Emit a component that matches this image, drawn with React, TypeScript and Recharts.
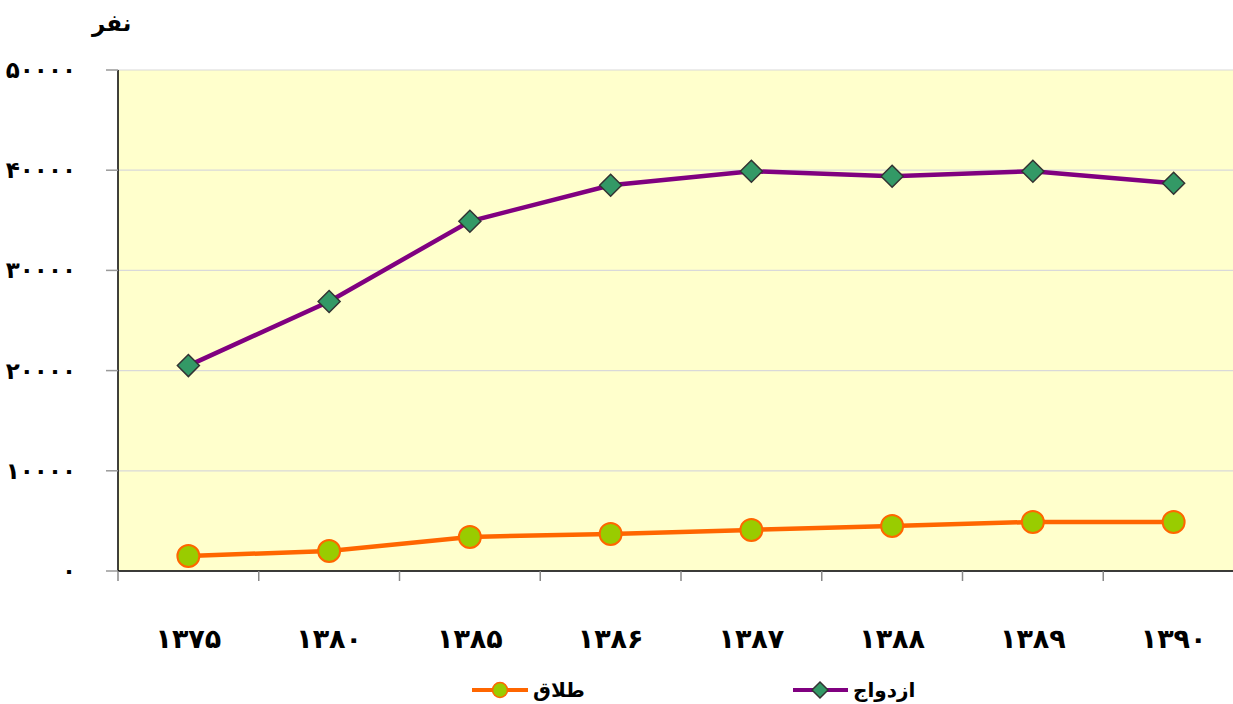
import React from "react";
import { LineChart, Line, XAxis, YAxis, CartesianGrid } from "recharts";

const years = ["۱۳۷۵", "۱۳۸۰", "۱۳۸۵", "۱۳۸۶", "۱۳۸۷", "۱۳۸۸", "۱۳۸۹", "۱۳۹۰"];
const marriage = [20500, 26900, 34900, 38500, 39900, 39400, 39900, 38700];
const divorce = [1500, 2000, 3400, 3700, 4100, 4500, 4900, 4900];
const yTicks = [0, 10000, 20000, 30000, 40000, 50000];
const marriageLabel = "ازدواج";
const divorceLabel = "طلاق";
const unitLabel = "نفر";

const data = years.map((y, i) => ({ year: y, marriage: marriage[i], divorce: divorce[i] }));

const FONT = "'DejaVu Sans', sans-serif";
const toFa = (n: number) => String(n).replace(/\d/g, (d) => "۰۱۲۳۴۵۶۷۸۹"[Number(d)]);

const CHART_W = 1244;
const CHART_H = 704;
const M_LEFT = 18;
const Y_W = 100;
const BAND = (CHART_W - M_LEFT - Y_W) / years.length;

const XTick = (props: any) => {
  const { x, payload } = props;
  const bx = x - BAND / 2;
  return (
    <g>
      <line x1={bx} y1={571} x2={bx} y2={581} stroke="#888" strokeWidth={1.5} />
      <text x={x} y={648} textAnchor="middle" fontFamily={FONT} fontWeight="bold" fontSize={27} fill="#000">
        {payload.value}
      </text>
    </g>
  );
};

const YTick = (props: any) => {
  const { y, payload } = props;
  return (
    <text x={76} y={y + 8} textAnchor="end" fontFamily={FONT} fontWeight="bold" fontSize={23} fill="#000">
      {toFa(payload.value)}
    </text>
  );
};

const Diamond = (props: any) => {
  const { cx, cy, index } = props;
  const r = 11;
  return (
    <path
      key={`d-${index}`}
      d={`M${cx},${cy - r} L${cx + r},${cy} L${cx},${cy + r} L${cx - r},${cy} Z`}
      fill="#339966"
      stroke="#333333"
      strokeWidth={1.5}
    />
  );
};

export default function App() {
  return (
    <div style={{ position: "absolute", left: 0, top: 0, width: 1233, height: 704, overflow: "hidden", background: "#fff" }}>
      <LineChart width={CHART_W} height={CHART_H} data={data} margin={{ top: 70, right: 0, bottom: 0, left: M_LEFT }}>
        <CartesianGrid vertical={false} stroke="#d9d9d9" strokeWidth={1.2} fill="#FFFFCC" />
        <XAxis
          dataKey="year"
          scale="band"
          height={133}
          axisLine={{ stroke: "#000", strokeWidth: 1.5 }}
          tickLine={false}
          tick={<XTick />}
          interval={0}
        />
        <YAxis
          width={Y_W}
          domain={[0, 50000]}
          ticks={yTicks}
          axisLine={{ stroke: "#000", strokeWidth: 1.5 }}
          tickLine={{ stroke: "#999", strokeWidth: 1.5 }}
          tickSize={12}
          tick={<YTick />}
        />
        <Line
          type="linear"
          dataKey="marriage"
          stroke="#800080"
          strokeWidth={4.5}
          dot={<Diamond />}
          isAnimationActive={false}
        />
        <Line
          type="linear"
          dataKey="divorce"
          stroke="#FF6600"
          strokeWidth={4.5}
          dot={{ r: 11, fill: "#99CC00", stroke: "#FF6600", strokeWidth: 2 }}
          isAnimationActive={false}
        />
      </LineChart>
      <div style={{ position: "absolute", left: 92, top: 10, fontFamily: FONT, fontWeight: "bold", fontSize: 23 }}>
        {unitLabel}
      </div>
      <svg style={{ position: "absolute", left: 0, top: 670 }} width={1233} height={34}>
        <line x1={472} y1={20} x2={528} y2={20} stroke="#FF6600" strokeWidth={4} />
        <circle cx={500} cy={20} r={7.5} fill="#99CC00" stroke="#FF6600" strokeWidth={1.5} />
        <text x={533} y={27} textAnchor="start" fontFamily={FONT} fontWeight="bold" fontSize={20}>
          {divorceLabel}
        </text>
        <line x1={793} y1={20} x2={848} y2={20} stroke="#800080" strokeWidth={4} />
        <path d="M820,12 L828,20 L820,28 L812,20 Z" fill="#339966" stroke="#333" strokeWidth={1.5} />
        <text x={853} y={27} textAnchor="start" fontFamily={FONT} fontWeight="bold" fontSize={20}>
          {marriageLabel}
        </text>
      </svg>
    </div>
  );
}
